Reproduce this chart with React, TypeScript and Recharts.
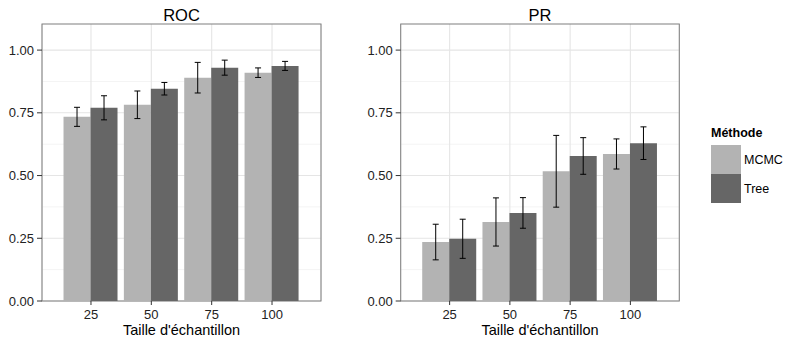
import React from 'react';
import { BarChart, Bar, XAxis, YAxis, CartesianGrid, ErrorBar, usePlotArea } from 'recharts';

const categories = ['25', '50', '75', '100'];
const seriesNames = ['MCMC', 'Tree'];
const seriesColors = ['#b3b3b3', '#666666'];

const rocMCMC = [0.734, 0.782, 0.89, 0.91];
const rocMCMCErr = [0.038, 0.055, 0.061, 0.019];
const rocTree = [0.77, 0.846, 0.93, 0.937];
const rocTreeErr = [0.048, 0.025, 0.03, 0.018];

const prMCMC = [0.235, 0.315, 0.517, 0.586];
const prMCMCErr = [0.071, 0.096, 0.143, 0.06];
const prTree = [0.248, 0.351, 0.578, 0.629];
const prTreeErr = [0.078, 0.061, 0.073, 0.065];

const yTicks = [0, 0.25, 0.5, 0.75, 1];
const yMinor = [0.125, 0.375, 0.625, 0.875];
const xTitle = "Taille d'échantillon";
const legendTitle = 'Méthode';

const FONT = "'Liberation Sans', Arial, Helvetica, sans-serif";

function buildData(a: number[], ae: number[], b: number[], be: number[]) {
  return categories.map((c, i) => ({
    cat: c,
    MCMC: a[i],
    MCMCErr: ae[i],
    Tree: b[i],
    TreeErr: be[i],
  }));
}

const rocData = buildData(rocMCMC, rocMCMCErr, rocTree, rocTreeErr);
const prData = buildData(prMCMC, prMCMCErr, prTree, prTreeErr);

function Border() {
  const p = usePlotArea();
  if (!p) return null;
  return (
    <rect x={p.x} y={p.y} width={p.width} height={p.height} fill="none" stroke="#7f7f7f" strokeWidth={1} />
  );
}

function Title({ text }: { text: string }) {
  const p = usePlotArea();
  if (!p) return null;
  return (
    <text x={p.x + p.width / 2} y={20.5} textAnchor="middle" fontSize={16.5} fill="#000" fontFamily={FONT}>
      {text}
    </text>
  );
}

function Panel({ title, data, left, width, yAxisWidth, marginRight }: any) {
  return (
    <div style={{ position: 'absolute', left, top: 0 }}>
      <BarChart
        width={width}
        height={337}
        data={data}
        margin={{ top: 24, right: marginRight, bottom: 0, left: 0 }}
        barCategoryGap="4.5%"
        barGap={0}
      >
        <CartesianGrid horizontalValues={yMinor} vertical={false} stroke="#f4f4f4" strokeWidth={1} />
        <CartesianGrid horizontalValues={yTicks} stroke="#e5e5e5" strokeWidth={1.1} />
        <XAxis
          dataKey="cat"
          height={36}
          padding={{ left: 18.8, right: 18.8 }}
          tickSize={4}
          tickMargin={5}
          axisLine={false}
          tickLine={{ stroke: '#333333' }}
          tick={{ fill: '#222222', fontSize: 13 }}
          label={{ value: xTitle, position: 'insideBottom', offset: 2, fill: '#000000', fontSize: 14.5 }}
        />
        <YAxis
          type="number"
          domain={[0, 1.104]}
          allowDataOverflow
          ticks={yTicks}
          width={yAxisWidth}
          tickSize={5}
          tickMargin={3}
          axisLine={false}
          tickLine={{ stroke: '#333333' }}
          tick={{ fill: '#222222', fontSize: 13 }}
          tickFormatter={(v: number) => v.toFixed(2)}
        />
        <Bar dataKey="MCMC" name={seriesNames[0]} fill={seriesColors[0]} isAnimationActive={false}>
          <ErrorBar dataKey="MCMCErr" width={3} stroke="#000000" strokeWidth={1} />
        </Bar>
        <Bar dataKey="Tree" name={seriesNames[1]} fill={seriesColors[1]} isAnimationActive={false}>
          <ErrorBar dataKey="TreeErr" width={3} stroke="#000000" strokeWidth={1} />
        </Bar>
        <Border />
        <Title text={title} />
      </BarChart>
    </div>
  );
}

function LegendBox() {
  return (
    <div style={{ position: 'absolute', left: 711, top: 126, fontFamily: FONT }}>
      <div style={{ fontWeight: 'bold', fontSize: 12.5, height: 19, lineHeight: '15px' }}>{legendTitle}</div>
      {seriesNames.map((n, i) => (
        <div key={n} style={{ display: 'flex', alignItems: 'center', height: 29 }}>
          <div style={{ width: 30, height: 29, background: seriesColors[i] }} />
          <span style={{ fontSize: 12.5, marginLeft: 3, color: '#000' }}>{n}</span>
        </div>
      ))}
    </div>
  );
}

export default function App() {
  return (
    <div style={{ position: 'absolute', left: 0, top: 0, width: 785, height: 337, background: '#fff', fontFamily: FONT }}>
      <Panel title="ROC" data={rocData} left={0} width={330} yAxisWidth={42} marginRight={9} />
      <Panel title="PR" data={prData} left={330} width={455} yAxisWidth={70.7} marginRight={105.7} />
      <LegendBox />
    </div>
  );
}
